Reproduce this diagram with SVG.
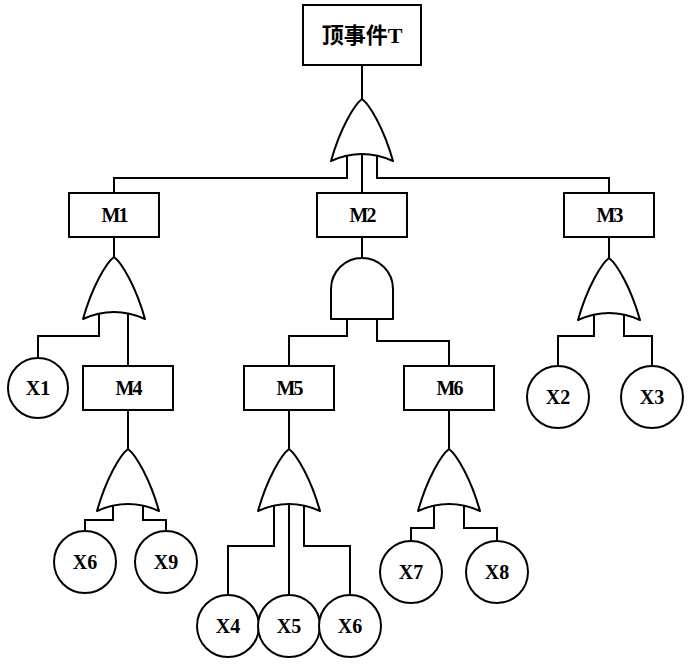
<svg xmlns="http://www.w3.org/2000/svg" xmlns:xlink="http://www.w3.org/1999/xlink" width="691" height="668" viewBox="0 0 691 668">
<defs>
<style>
.box{fill:#fff;stroke:#000;stroke-width:2}
.gate{fill:#fff;stroke:#000;stroke-width:2;stroke-linejoin:round}
.ev{fill:#fff;stroke:#000;stroke-width:2}
.ln{fill:none;stroke:#000;stroke-width:2}
.t{font-family:"Liberation Serif","Noto Sans CJK SC",serif;font-weight:bold;font-size:20px;text-anchor:middle;fill:#000}
.m{letter-spacing:-2px}
.top{font-size:22px}
</style>
<path id="or" d="M0,0 C-8,6 -22,30 -31,62 Q0,48 31,62 C22,30 8,6 0,0 Z"/>
</defs>
<rect width="691" height="668" fill="#fff"/>
<g id="connectors" class="ln">
<path d="M362,65 V99"/>
<path d="M347,150 V178 H114 V193"/>
<path d="M362,150 V193"/>
<path d="M377,150 V178 H609 V193"/>
<path d="M114,237 V257"/>
<path d="M99,308 V336 H38 V358"/>
<path d="M128,308 V366"/>
<path d="M362,237 V258"/>
<path d="M347,319 V336 H289 V366"/>
<path d="M377,319 V341 H449 V366"/>
<path d="M609,237 V258"/>
<path d="M594,310 V336 H558 V366"/>
<path d="M624,310 V336 H652 V366"/>
<path d="M128,410 V449"/>
<path d="M113,503 V520 H85 V531"/>
<path d="M143,503 V520 H166 V531"/>
<path d="M289,410 V449"/>
<path d="M274,503 V546 H228 V595"/>
<path d="M289,503 V595"/>
<path d="M304,503 V546 H350 V595"/>
<path d="M449,410 V449"/>
<path d="M434,502 V528 H411 V541"/>
<path d="M464,502 V528 H497 V541"/>
</g>
<g id="T"><rect class="box" x="303" y="5" width="118" height="60"/><text class="t top" x="362" y="43">顶事件T</text></g>
<g id="G0"><use href="#or" xlink:href="#or" class="gate" x="362" y="99"/></g>
<g id="M1"><rect class="box" x="69" y="193" width="90" height="44"/><text class="t m" x="114" y="222">M1</text></g>
<g id="M2"><rect class="box" x="317" y="193" width="90" height="44"/><text class="t m" x="362" y="222">M2</text></g>
<g id="M3"><rect class="box" x="564" y="193" width="90" height="44"/><text class="t m" x="609" y="222">M3</text></g>
<g id="G1"><use href="#or" xlink:href="#or" class="gate" x="114" y="257"/></g>
<g id="G2"><path class="gate" d="M331,319 V289 A31,31 0 0 1 393,289 V319 Z"/></g>
<g id="G3"><use href="#or" xlink:href="#or" class="gate" x="609" y="258"/></g>
<g id="X1"><circle class="ev" cx="38" cy="388" r="30"/><text class="t" x="38" y="395">X1</text></g>
<g id="M4"><rect class="box" x="83" y="366" width="90" height="44"/><text class="t m" x="128" y="395">M4</text></g>
<g id="M5"><rect class="box" x="244" y="366" width="90" height="44"/><text class="t m" x="289" y="395">M5</text></g>
<g id="M6"><rect class="box" x="404" y="366" width="90" height="44"/><text class="t m" x="449" y="395">M6</text></g>
<g id="X2"><circle class="ev" cx="558" cy="397" r="31"/><text class="t" x="558" y="404">X2</text></g>
<g id="X3"><circle class="ev" cx="652" cy="397" r="31"/><text class="t" x="652" y="404">X3</text></g>
<g id="G4"><use href="#or" xlink:href="#or" class="gate" x="128" y="449"/></g>
<g id="G5"><use href="#or" xlink:href="#or" class="gate" x="289" y="449"/></g>
<g id="G6"><use href="#or" xlink:href="#or" class="gate" x="449" y="449"/></g>
<g id="X6a"><circle class="ev" cx="85" cy="562" r="31"/><text class="t" x="85" y="569">X6</text></g>
<g id="X9"><circle class="ev" cx="166" cy="562" r="31"/><text class="t" x="166" y="569">X9</text></g>
<g id="X7"><circle class="ev" cx="411" cy="572" r="31"/><text class="t" x="411" y="579">X7</text></g>
<g id="X8"><circle class="ev" cx="497" cy="572" r="31"/><text class="t" x="497" y="579">X8</text></g>
<g id="X4"><circle class="ev" cx="228" cy="626" r="31"/><text class="t" x="228" y="633">X4</text></g>
<g id="X5"><circle class="ev" cx="289" cy="626" r="31"/><text class="t" x="289" y="633">X5</text></g>
<g id="X6b"><circle class="ev" cx="350" cy="626" r="31"/><text class="t" x="350" y="633">X6</text></g>
</svg>
